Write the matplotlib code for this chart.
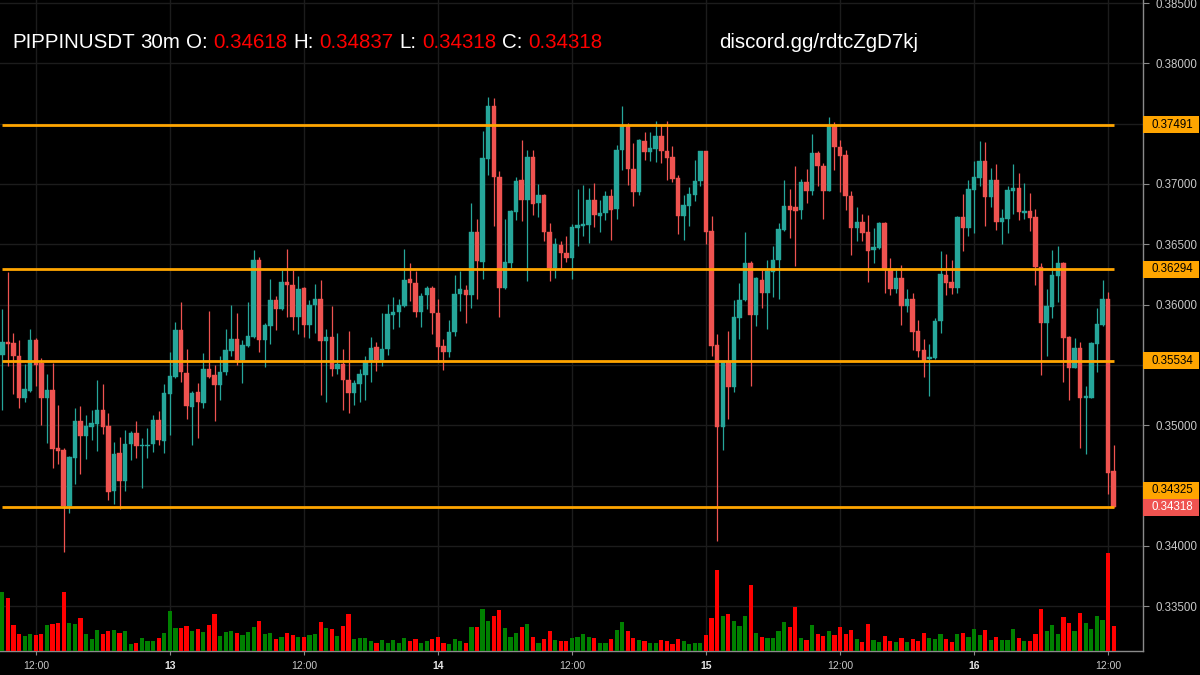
import matplotlib
matplotlib.use("Agg")
import matplotlib.pyplot as plt
from matplotlib.patches import Rectangle
import matplotlib.transforms as mtransforms
import numpy as np
import pandas as pd

# ---------------- data ----------------
symbol = "PIPPINUSDT"
interval = "30m"
start_time = "2024-12-12 09:00"
watermark = "discord.gg/rdtcZgD7kj"

opens = [
    0.35582, 0.35692, 0.35678, 0.35570, 0.35228, 0.35283, 0.35703, 0.35512, 0.35223, 0.35289,
    0.34808, 0.34792, 0.34331, 0.34731, 0.35032, 0.34910, 0.34988, 0.35010, 0.35126, 0.34993,
    0.34455, 0.34767, 0.34538, 0.34841, 0.34933, 0.34828, 0.34830, 0.34841, 0.35040, 0.34869,
    0.35261, 0.35399, 0.35786, 0.35435, 0.35153, 0.35273, 0.35185, 0.35466, 0.35419, 0.35337,
    0.35441, 0.35612, 0.35714, 0.35543, 0.35654, 0.35731, 0.36371, 0.35709, 0.35825, 0.36040,
    0.35966, 0.36186, 0.36164, 0.35894, 0.36137, 0.35828, 0.35993, 0.36048, 0.35701, 0.35731,
    0.35469, 0.35510, 0.35378, 0.35267, 0.35344, 0.35419, 0.35530, 0.35650, 0.35543, 0.35631,
    0.35917, 0.35939, 0.35989, 0.36210, 0.36182, 0.35939, 0.36077, 0.36135, 0.35934, 0.35658,
    0.35603, 0.35769, 0.36086, 0.36119, 0.36080, 0.36601, 0.36356, 0.37210, 0.37643, 0.37058,
    0.36141, 0.36347, 0.36766, 0.37036, 0.36871, 0.37221, 0.36843, 0.36912, 0.36601, 0.36301,
    0.36497, 0.36428, 0.36382, 0.36635, 0.36655, 0.36663, 0.36865, 0.36732, 0.36760, 0.36903,
    0.36796, 0.37284, 0.37483, 0.37127, 0.36931, 0.37359, 0.37262, 0.37292, 0.37394, 0.37276,
    0.37221, 0.37049, 0.36732, 0.36820, 0.36911, 0.37022, 0.37270, 0.36608, 0.35661, 0.34988,
    0.35531, 0.35316, 0.35887, 0.36039, 0.36347, 0.35915, 0.36204, 0.36094, 0.36273, 0.36369,
    0.36617, 0.36821, 0.36808, 0.36783, 0.37014, 0.36945, 0.37257, 0.37152, 0.36945, 0.37483,
    0.37306, 0.37237, 0.36904, 0.36637, 0.36686, 0.36601, 0.36449, 0.36471, 0.36678, 0.36298,
    0.36132, 0.36223, 0.35989, 0.36044, 0.35782, 0.35625, 0.35547, 0.35553, 0.35860, 0.36247,
    0.36183, 0.36134, 0.36723, 0.36634, 0.36952, 0.37049, 0.37187, 0.36894, 0.37032, 0.36681,
    0.36709, 0.36941, 0.36963, 0.36756, 0.36778, 0.36723, 0.36308, 0.35846, 0.35984, 0.36239,
    0.36341, 0.35735, 0.35478, 0.35639, 0.35224, 0.35229, 0.35672, 0.35829, 0.36045, 0.34618,
]
highs = [
    0.35965, 0.36269, 0.35761, 0.35703, 0.35504, 0.35794, 0.35725, 0.35559, 0.35421, 0.35512,
    0.35165, 0.34808, 0.34745, 0.35142, 0.35156, 0.35082, 0.35126, 0.35372, 0.35339, 0.35104,
    0.34864, 0.34902, 0.34957, 0.34952, 0.35032, 0.34897, 0.34979, 0.35082, 0.35118, 0.35344,
    0.35609, 0.35858, 0.36021, 0.35628, 0.35284, 0.35350, 0.35599, 0.35944, 0.35496, 0.35577,
    0.35800, 0.35993, 0.35930, 0.35703, 0.36021, 0.36454, 0.36393, 0.35847, 0.36214, 0.36073,
    0.36283, 0.36462, 0.36289, 0.36233, 0.36145, 0.36035, 0.36173, 0.36206, 0.35800, 0.35985,
    0.35764, 0.35634, 0.35783, 0.35378, 0.35469, 0.35577, 0.35731, 0.35686, 0.35928, 0.36003,
    0.36066, 0.36050, 0.36463, 0.36347, 0.36278, 0.36099, 0.36154, 0.36154, 0.36044, 0.35713,
    0.35873, 0.36245, 0.36278, 0.36160, 0.36843, 0.36711, 0.37436, 0.37720, 0.37712, 0.37105,
    0.36706, 0.36783, 0.37058, 0.37362, 0.37284, 0.37284, 0.37003, 0.36918, 0.36678, 0.36554,
    0.36531, 0.36572, 0.36669, 0.36958, 0.36994, 0.36967, 0.37008, 0.36865, 0.36945, 0.36958,
    0.37325, 0.37648, 0.37505, 0.37339, 0.37372, 0.37431, 0.37428, 0.37519, 0.37486, 0.37519,
    0.37317, 0.37077, 0.36911, 0.36975, 0.37201, 0.37276, 0.37276, 0.36732, 0.35752, 0.35534,
    0.35785, 0.36042, 0.36175, 0.36601, 0.36361, 0.36232, 0.36287, 0.36367, 0.36485, 0.36678,
    0.37031, 0.36954, 0.37152, 0.37042, 0.37127, 0.37417, 0.37276, 0.37174, 0.37552, 0.37513,
    0.37367, 0.37284, 0.36940, 0.36810, 0.36747, 0.36739, 0.36637, 0.36686, 0.36686, 0.36383,
    0.36306, 0.36325, 0.36127, 0.36094, 0.35873, 0.35713, 0.35672, 0.35885, 0.36441, 0.36419,
    0.36372, 0.36731, 0.36916, 0.37035, 0.37193, 0.37359, 0.37345, 0.37132, 0.37165, 0.36792,
    0.36980, 0.37165, 0.37091, 0.37008, 0.36925, 0.36792, 0.36341, 0.36128, 0.36452, 0.36482,
    0.36349, 0.35740, 0.35719, 0.35686, 0.35326, 0.35691, 0.35968, 0.36203, 0.36101, 0.34837,
]
lows = [
    0.35126, 0.35490, 0.35256, 0.35142, 0.35192, 0.35275, 0.35325, 0.35002, 0.34855, 0.34645,
    0.34676, 0.33949, 0.34275, 0.34510, 0.34593, 0.34717, 0.34877, 0.34786, 0.34924, 0.34377,
    0.34344, 0.34303, 0.34455, 0.34712, 0.34731, 0.34482, 0.34725, 0.34778, 0.34833, 0.34770,
    0.34919, 0.35394, 0.35361, 0.35049, 0.34836, 0.34894, 0.35143, 0.35390, 0.35033, 0.35212,
    0.35419, 0.35571, 0.35502, 0.35350, 0.35648, 0.35723, 0.35604, 0.35483, 0.35676, 0.35792,
    0.35957, 0.35894, 0.35792, 0.35759, 0.35731, 0.35723, 0.35764, 0.35253, 0.35190, 0.35405,
    0.35427, 0.35129, 0.35102, 0.35165, 0.35190, 0.35207, 0.35356, 0.35452, 0.35493, 0.35584,
    0.35796, 0.35815, 0.35983, 0.36030, 0.35893, 0.35810, 0.35962, 0.35755, 0.35521, 0.35457,
    0.35567, 0.35736, 0.35948, 0.35846, 0.35970, 0.36044, 0.36210, 0.37078, 0.36651, 0.35893,
    0.36130, 0.36306, 0.36700, 0.36692, 0.36196, 0.36741, 0.36728, 0.36526, 0.36196, 0.36218,
    0.36299, 0.36351, 0.36208, 0.36484, 0.36566, 0.36511, 0.36641, 0.36602, 0.36704, 0.36539,
    0.36710, 0.37113, 0.36994, 0.36820, 0.36911, 0.37196, 0.37187, 0.37179, 0.37174, 0.37036,
    0.37016, 0.36589, 0.36539, 0.36649, 0.36862, 0.36980, 0.36506, 0.35573, 0.34041, 0.34795,
    0.35048, 0.35275, 0.35716, 0.36030, 0.35328, 0.35824, 0.35970, 0.35796, 0.36063, 0.36044,
    0.36609, 0.36548, 0.36320, 0.36706, 0.36843, 0.36907, 0.36987, 0.36711, 0.36940, 0.37113,
    0.36932, 0.36788, 0.36411, 0.36526, 0.36526, 0.36187, 0.36347, 0.36463, 0.36099, 0.36077,
    0.36094, 0.35829, 0.35939, 0.35625, 0.35562, 0.35402, 0.35243, 0.35547, 0.35763, 0.36078,
    0.36087, 0.36095, 0.36446, 0.36571, 0.36593, 0.36980, 0.36654, 0.36811, 0.36620, 0.36501,
    0.36593, 0.36750, 0.36703, 0.36709, 0.36607, 0.36164, 0.35417, 0.35575, 0.35885, 0.36018,
    0.35354, 0.35210, 0.35475, 0.34809, 0.34765, 0.35222, 0.35442, 0.35824, 0.34427, 0.34318,
]
closes = [
    0.35692, 0.35670, 0.35570, 0.35228, 0.35297, 0.35709, 0.35499, 0.35223, 0.35289, 0.34800,
    0.34786, 0.34331, 0.34739, 0.35032, 0.34910, 0.34993, 0.35018, 0.35126, 0.34988, 0.34447,
    0.34759, 0.34538, 0.34847, 0.34933, 0.34828, 0.34839, 0.34839, 0.35040, 0.34877, 0.35264,
    0.35405, 0.35786, 0.35441, 0.35159, 0.35269, 0.35190, 0.35466, 0.35400, 0.35337, 0.35441,
    0.35626, 0.35714, 0.35543, 0.35662, 0.35737, 0.36371, 0.35709, 0.35833, 0.36040, 0.35966,
    0.36186, 0.36164, 0.35894, 0.36131, 0.35828, 0.35993, 0.36048, 0.35701, 0.35731, 0.35469,
    0.35510, 0.35372, 0.35267, 0.35350, 0.35427, 0.35530, 0.35640, 0.35543, 0.35631, 0.35920,
    0.35942, 0.35995, 0.36204, 0.36176, 0.35939, 0.36072, 0.36135, 0.35934, 0.35650, 0.35603,
    0.35769, 0.36091, 0.36127, 0.36080, 0.36601, 0.36361, 0.37215, 0.37648, 0.37056, 0.36141,
    0.36353, 0.36775, 0.37023, 0.36871, 0.37221, 0.36830, 0.36912, 0.36601, 0.36301, 0.36499,
    0.36428, 0.36382, 0.36641, 0.36663, 0.36671, 0.36865, 0.36740, 0.36762, 0.36903, 0.36787,
    0.37284, 0.37477, 0.37127, 0.36931, 0.37361, 0.37262, 0.37298, 0.37394, 0.37270, 0.37215,
    0.37044, 0.36732, 0.36829, 0.36920, 0.37027, 0.37270, 0.36602, 0.35656, 0.34988, 0.35531,
    0.35316, 0.35896, 0.36042, 0.36347, 0.35915, 0.36223, 0.36094, 0.36278, 0.36367, 0.36623,
    0.36821, 0.36788, 0.36774, 0.37014, 0.36945, 0.37257, 0.37147, 0.36945, 0.37483, 0.37304,
    0.37229, 0.36898, 0.36637, 0.36686, 0.36595, 0.36444, 0.36480, 0.36678, 0.36298, 0.36132,
    0.36223, 0.35989, 0.36044, 0.35774, 0.35617, 0.35534, 0.35564, 0.35860, 0.36253, 0.36178,
    0.36134, 0.36723, 0.36634, 0.36958, 0.37055, 0.37187, 0.36894, 0.37032, 0.36681, 0.36714,
    0.36949, 0.36963, 0.36770, 0.36778, 0.36717, 0.36308, 0.35846, 0.35990, 0.36247, 0.36341,
    0.35727, 0.35478, 0.35639, 0.35224, 0.35238, 0.35680, 0.35838, 0.36045, 0.34607, 0.34318,
]
volumes = [  # thousands
    590, 530, 257, 167, 150, 167, 157, 167, 257, 273,
    283, 590, 280, 273, 330, 167, 123, 207, 167, 197,
    207, 180, 197, 73, 83, 133, 97, 97, 133, 180,
    397, 230, 230, 247, 197, 217, 187, 257, 373, 150,
    187, 197, 177, 157, 187, 237, 300, 167, 177, 123,
    143, 177, 157, 143, 143, 157, 167, 290, 227, 217,
    150, 247, 367, 123, 133, 133, 97, 77, 113, 77,
    113, 77, 133, 97, 123, 83, 97, 123, 143, 83,
    67, 123, 97, 83, 237, 237, 423, 300, 347, 413,
    227, 143, 180, 237, 273, 143, 83, 123, 197, 113,
    103, 97, 133, 143, 167, 143, 133, 77, 83, 123,
    207, 290, 197, 133, 113, 97, 77, 83, 113, 103,
    67, 123, 103, 67, 83, 77, 157, 330, 807, 347,
    367, 300, 253, 347, 657, 180, 140, 130, 130, 197,
    290, 237, 440, 130, 113, 263, 173, 150, 203, 163,
    237, 167, 213, 120, 87, 270, 113, 87, 150, 97,
    87, 133, 87, 120, 97, 177, 133, 120, 170, 120,
    87, 170, 180, 143, 217, 160, 207, 113, 143, 113,
    113, 217, 133, 97, 97, 170, 417, 197, 257, 170,
    340, 283, 197, 377, 283, 217, 347, 307, 980, 247,
]
levels = [0.37491, 0.36294, 0.35534, 0.34325]

# ---------------- style ----------------
BG = "#000000"
UP, DN = "#26a69a", "#ef5350"
VUP, VDN = "#008000", "#ff0000"
ORANGE = "#ffa500"
GRID = "#1c1c1c"
AXC = "#8a8a8a"
TICKTXT = "#c8c8c8"
FONT = "Liberation Sans"

W, H = 1200, 675
fig = plt.figure(figsize=(W / 100, H / 100), dpi=100, facecolor=BG)
ax = fig.add_axes([0, 24 / H, 1143 / W, 651 / H])
ax.set_facecolor(BG)

o = np.array(opens); hi = np.array(highs); lo = np.array(lows); c = np.array(closes)
n = len(o)
x = np.arange(n)
times = pd.date_range(start_time, periods=n, freq="30min")
up = c >= o
cols = np.where(up, UP, DN)

# volume on twin axis (created first so the price axis keeps its right-hand ticks)
ax2 = ax.twinx()
vcols = np.where(up, VUP, VDN)
ax2.bar(x, volumes, width=0.75, color=vcols, linewidth=0, zorder=2)
ax2.set_ylim(0, 6510)
ax2.set_yticks([])
for s in ax2.spines.values():
    s.set_visible(False)

ax.vlines(x, lo, hi, colors=cols, linewidth=0.9, zorder=3)
body = np.maximum(np.abs(c - o), 0.00004)
ax.bar(x, body, bottom=np.minimum(o, c), width=0.8, color=cols,
       edgecolor=cols, linewidth=0.3, zorder=4)

# support / resistance levels
ax.hlines(levels, 0, n - 1, colors=ORANGE, linewidth=2.0, zorder=6)

ax.set_xlim(-0.41, 204.25)
ax2.set_xlim(ax.get_xlim())
ax.set_ylim(0.33128, 0.38525)

px_per_price = 651 / (0.38525 - 0.33128)
box_h = 17 / px_per_price
box_w = (1199 - 1143) / 1143
last_price = closes[-1]

# y axis on right; labels fully hidden under a price box are left blank
yt = np.arange(0.335, 0.38501, 0.005)
box_centres = [last_price] + [(lv if abs(lv - last_price) >= box_h else last_price + box_h)
                              for lv in levels]
ytl = []
for v in yt:
    covered = any(abs(v - bc) < box_h * 0.45 for bc in box_centres)
    ytl.append("" if covered else "%.5f" % v)
ax.yaxis.tick_right()
ax.yaxis.set_label_position("right")
ax.set_yticks(yt)
ax.set_yticklabels(ytl)
ax.tick_params(axis="y", which="both", left=False, labelleft=False, right=True, labelright=True,
               colors=AXC, labelcolor=TICKTXT, labelsize=8.3, length=4, width=0.8, pad=5)
for lab in ax.get_yticklabels():
    lab.set_family(FONT)

# x ticks: 12:00 and day starts
tick_idx = [i for i, t in enumerate(times) if t.minute == 0 and t.hour in (0, 12)]
tick_lab = [("%d" % times[i].day) if times[i].hour == 0 else "12:00" for i in tick_idx]
ax.set_xticks(tick_idx)
ax.set_xticklabels(tick_lab)
ax.tick_params(axis="x", colors=AXC, labelcolor=TICKTXT, labelsize=7.5,
               length=3, width=0.8, pad=4)
for lab in ax.get_xticklabels():
    lab.set_family(FONT)
    if lab.get_text() != "12:00":
        lab.set_fontweight("bold")
        lab.set_color("#e6e6e6")

ax.grid(True, color=GRID, linewidth=1.0)
ax.set_axisbelow(True)
for s in ("top", "left"):
    ax.spines[s].set_visible(False)
for s in ("right", "bottom"):
    ax.spines[s].set_color(AXC)
    ax.spines[s].set_linewidth(1.0)

# price labels on the right
trans = mtransforms.blended_transform_factory(ax.transAxes, ax.transData)


def price_box(y_center, text, fc, tc):
    ax.add_patch(Rectangle((1.0, y_center - box_h / 2), box_w, box_h, transform=trans,
                           facecolor=fc, edgecolor="none", clip_on=False, zorder=10))
    ax.text(1.0 + 8 / 1143, y_center, text, transform=trans, ha="left", va="center",
            fontsize=8.3, color=tc, family=FONT, zorder=11, clip_on=False)


for lv in levels:
    yc = lv
    if abs(lv - last_price) < box_h:
        yc = last_price + box_h
    price_box(yc, "%.5f" % lv, ORANGE, "#000000")
price_box(last_price, "%.5f" % last_price, DN, "#ffffff")

# header text
fig.canvas.draw()
r = fig.canvas.get_renderer()
FS = 14.8
ypos = 1 - 42 / H


def width_of(s):
    t = fig.text(0, 0, s, fontsize=FS, family=FONT)
    w = t.get_window_extent(renderer=r).width
    t.remove()
    return w


space = width_of("x x") - width_of("xx")
parts = [(symbol, "white"), (interval, "white"), ("O:", "white"), ("%.5f" % opens[-1], "#ff0000"),
         ("H:", "white"), ("%.5f" % highs[-1], "#ff0000"), ("L:", "white"),
         ("%.5f" % lows[-1], "#ff0000"), ("C:", "white"), ("%.5f" % closes[-1], "#ff0000")]
xp = 12
for s, col in parts:
    t = fig.text(xp / W, ypos, s, fontsize=FS, family=FONT, color=col, va="center")
    xp += t.get_window_extent(renderer=r).width + space
fig.text(719 / W, ypos, watermark, fontsize=FS, family=FONT, color="white", va="center")

fig.savefig("out.png", dpi=100, facecolor=BG)
